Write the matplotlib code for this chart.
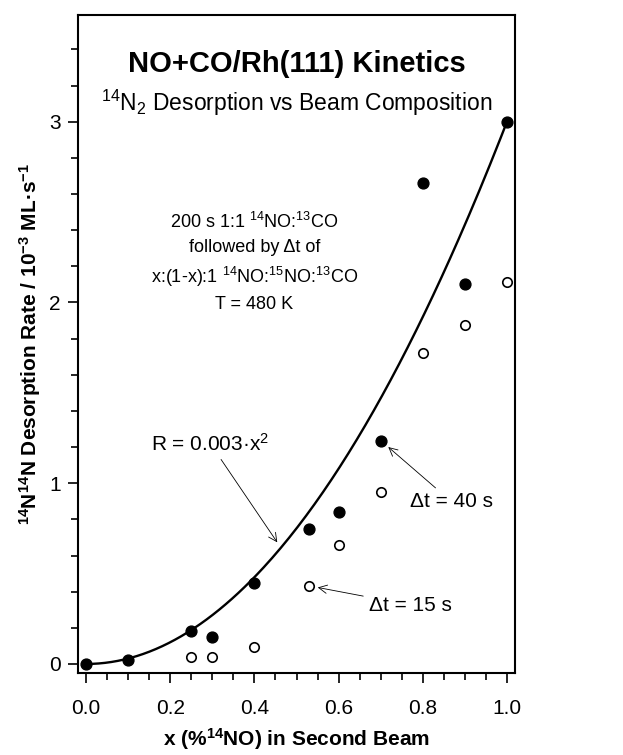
import numpy as np
import matplotlib
matplotlib.use('Agg')
import matplotlib.pyplot as plt

plt.rcParams['font.family'] = ['Liberation Sans', 'DejaVu Sans']
plt.rcParams['mathtext.default'] = 'regular'

# beam composition x (fraction 14NO)
x_40s = [0.0, 0.1, 0.25, 0.3, 0.4, 0.53, 0.6, 0.7, 0.8, 0.9, 1.0]
rate_40s = [0.0, 0.02, 0.185, 0.148, 0.448, 0.748, 0.84, 1.235, 2.66, 2.10, 3.0]

x_15s = [0.25, 0.3, 0.4, 0.53, 0.6, 0.7, 0.8, 0.9, 1.0]
rate_15s = [0.037, 0.037, 0.092, 0.433, 0.656, 0.95, 1.718, 1.875, 2.115]

# fit R = 0.003 x^2  (plotted in 1e-3 units)
fit_coef = 3.0

fig = plt.figure(figsize=(6.23, 7.55), dpi=100)
ax = fig.add_axes([78/623, (755-673)/755, (515-78)/623, (673-15)/755])

xx = np.linspace(0, 1, 200)
ax.plot(xx, fit_coef * xx**2, color='k', linewidth=1.7)
ax.plot(x_40s, rate_40s, 'o', color='k', markersize=7.8, zorder=3)
ax.plot(x_15s, rate_15s, 'o', markerfacecolor='white', markeredgecolor='k',
        markeredgewidth=1.2, markersize=6.8, zorder=3)

ax.set_xlim(-0.019, 1.019)
ax.set_ylim(-0.05, 3.59)
ax.set_xticks([0.0, 0.2, 0.4, 0.6, 0.8, 1.0])
ax.set_xticklabels(['0.0', '0.2', '0.4', '0.6', '0.8', '1.0'])
ax.set_xticks(np.arange(0, 1.001, 0.05), minor=True)
ax.set_yticks([0, 1, 2, 3])
ax.set_yticks(np.arange(0, 3.51, 0.2), minor=True)
ax.tick_params(which='both', direction='out', labelsize=15, width=1.2)
ax.tick_params(which='major', length=7.5)
ax.tick_params(which='minor', length=5)
ax.tick_params(axis='x', which='major', pad=11)
ax.tick_params(axis='y', which='major', pad=5)
for s in ax.spines.values():
    s.set_linewidth(1.5)

ax.set_xlabel('x (%$^{14}$NO) in Second Beam', fontsize=15, fontweight='bold',
              labelpad=6)
ax.set_ylabel('$^{14}$N$^{14}$N Desorption Rate / 10$^{-3}$ ML·s$^{-1}$',
              fontsize=15, fontweight='bold', labelpad=4)

ax.text(0.5, 0.9255, 'NO+CO/Rh(111) Kinetics', transform=ax.transAxes,
        ha='center', va='center', fontsize=21, fontweight='bold')
ax.text(0.5, 0.866, '$^{14}$N$_2$ Desorption vs Beam Composition',
        transform=ax.transAxes, ha='center', va='center', fontsize=16.5)
ax.text(0.40, 2.22, '200 s 1:1 $^{14}$NO:$^{13}$CO\nfollowed by Δt of\n'
        'x:(1-x):1 $^{14}$NO:$^{15}$NO:$^{13}$CO\nT = 480 K',
        ha='center', va='center', fontsize=13, linespacing=1.52)

arrow = dict(arrowstyle='->', color='k', linewidth=0.6)
ax.annotate('R = 0.003·x$^2$', xy=(0.458, 0.66), xytext=(0.295, 1.22),
            ha='center', va='center', fontsize=15, arrowprops=arrow)
ax.annotate('Δt = 40 s', xy=(0.713, 1.21), xytext=(0.869, 0.896),
            ha='center', va='center', fontsize=15, arrowprops=arrow)
ax.annotate('Δt = 15 s', xy=(0.544, 0.426), xytext=(0.77, 0.326),
            ha='center', va='center', fontsize=15, arrowprops=arrow)

fig.savefig('out.png', dpi=100)
